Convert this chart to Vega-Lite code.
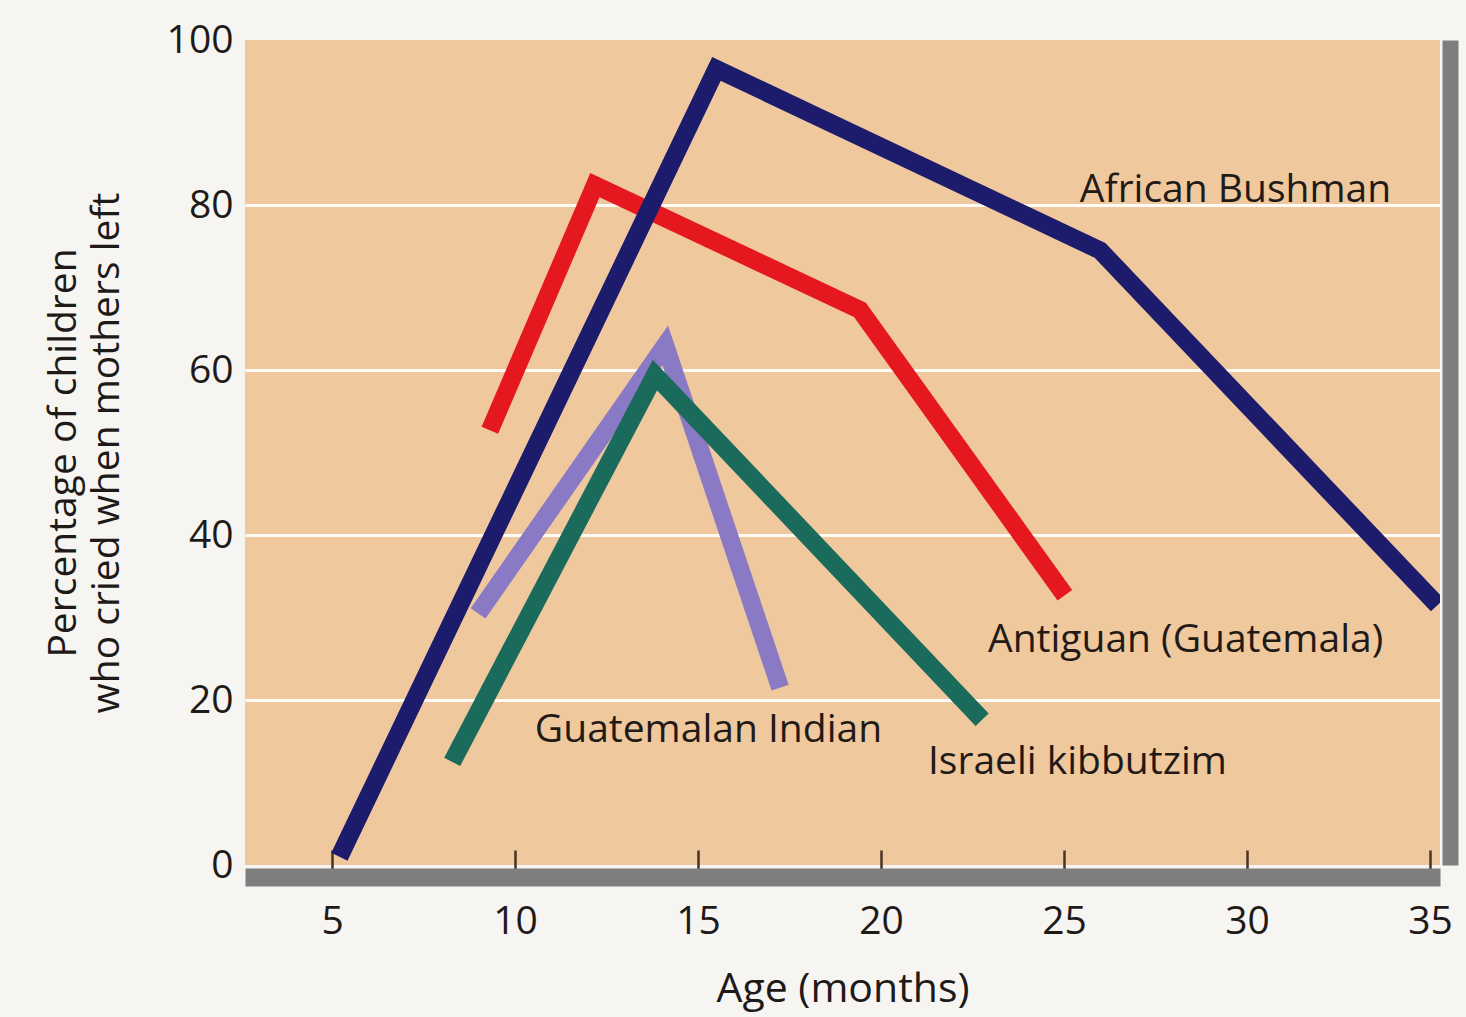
{
  "$schema": "https://vega.github.io/schema/vega-lite/v6.json",
  "width": 1195,
  "height": 825,
  "autosize": {"type": "none"},
  "padding": {"left": 245, "top": 40, "right": 26, "bottom": 152},
  "background": "#f6f5f1",
  "config": {
    "view": {"fill": "#f0c89d", "stroke": null},
    "font": "Open Sans",
    "axis": {"labelFont": "Open Sans", "titleFont": "Open Sans", "labelColor": "#1e1a18", "titleColor": "#1e1a18", "titleFontWeight": "normal"}
  },
  "datasets": {
    "series": [
      {"group": "Guatemalan Indian", "age": 8.99, "pct": 30.5},
      {"group": "Guatemalan Indian", "age": 14.1, "pct": 63},
      {"group": "Guatemalan Indian", "age": 17.24, "pct": 21.5},
      {"group": "Israeli kibbutzim", "age": 8.28, "pct": 12.5},
      {"group": "Israeli kibbutzim", "age": 13.82, "pct": 59.4},
      {"group": "Israeli kibbutzim", "age": 22.76, "pct": 17.6},
      {"group": "Antiguan (Guatemala)", "age": 9.31, "pct": 52.7},
      {"group": "Antiguan (Guatemala)", "age": 12.18, "pct": 82.4},
      {"group": "Antiguan (Guatemala)", "age": 19.42, "pct": 67.3},
      {"group": "Antiguan (Guatemala)", "age": 25.02, "pct": 32.7},
      {"group": "African Bushman", "age": 5.2, "pct": 1},
      {"group": "African Bushman", "age": 15.5, "pct": 96.5},
      {"group": "African Bushman", "age": 25.98, "pct": 74.5},
      {"group": "African Bushman", "age": 35.2, "pct": 31.5}
    ],
    "labels": [
      {"group": "African Bushman", "age": 25.43, "pct": 81.8},
      {"group": "Antiguan (Guatemala)", "age": 22.92, "pct": 27.3},
      {"group": "Guatemalan Indian", "age": 10.54, "pct": 16.4},
      {"group": "Israeli kibbutzim", "age": 21.28, "pct": 12.5}
    ]
  },
  "resolve": {"axis": {"y": "independent"}},
  "layer": [
    {
      "data": {"name": "series"},
      "mark": {"type": "line", "strokeWidth": 18, "strokeCap": "butt", "strokeJoin": "miter", "clip": true},
      "encoding": {
        "x": {
          "field": "age", "type": "quantitative",
          "scale": {"domain": [2.62, 35.27], "nice": false, "zero": false},
          "axis": {
            "values": [5, 10, 15, 20, 25, 30, 35],
            "title": "Age (months)",
            "titleFontSize": 41,
            "titlePadding": 28,
            "labelFontSize": 39,
            "labelPadding": 52,
            "grid": false,
            "offset": 12,
            "domainColor": "#7e7e7e",
            "domainWidth": 18,
            "tickSize": -27,
            "tickColor": "#4a3426",
            "tickWidth": 2.5
          }
        },
        "y": {
          "field": "pct", "type": "quantitative",
          "scale": {"domain": [0, 100], "nice": false},
          "axis": {
            "values": [0, 20, 40, 60, 80, 100],
            "title": ["Percentage of children", "who cried when mothers left"],
            "titleFontSize": 39,
            "titleLineHeight": 43,
            "titlePadding": 40,
            "labelFontSize": 39,
            "labelPadding": 12,
            "domain": false,
            "ticks": false,
            "grid": true,
            "gridColor": "#ffffff",
            "gridWidth": 3,
            "gridOpacity": {"condition": {"test": "datum.value == 0 || datum.value == 100", "value": 0}, "value": 0.9}
          }
        },
        "color": {
          "field": "group", "type": "nominal", "legend": null,
          "scale": {
            "domain": ["Guatemalan Indian", "Israeli kibbutzim", "Antiguan (Guatemala)", "African Bushman"],
            "range": ["#8a79c4", "#1b6b5c", "#e5171f", "#1c1b6c"]
          }
        },
        "order": {"field": "age"}
      }
    },
    {
      "data": {"name": "labels"},
      "mark": {"type": "text", "align": "left", "baseline": "middle", "fontSize": 39, "color": "#221a16", "font": "Open Sans"},
      "encoding": {
        "x": {"field": "age", "type": "quantitative"},
        "y": {
          "field": "pct", "type": "quantitative",
          "axis": {
            "orient": "right",
            "labels": false,
            "ticks": false,
            "grid": false,
            "title": null,
            "domainColor": "#7e7e7e",
            "domainWidth": 16,
            "offset": 10
          }
        },
        "text": {"field": "group"}
      }
    }
  ]
}
